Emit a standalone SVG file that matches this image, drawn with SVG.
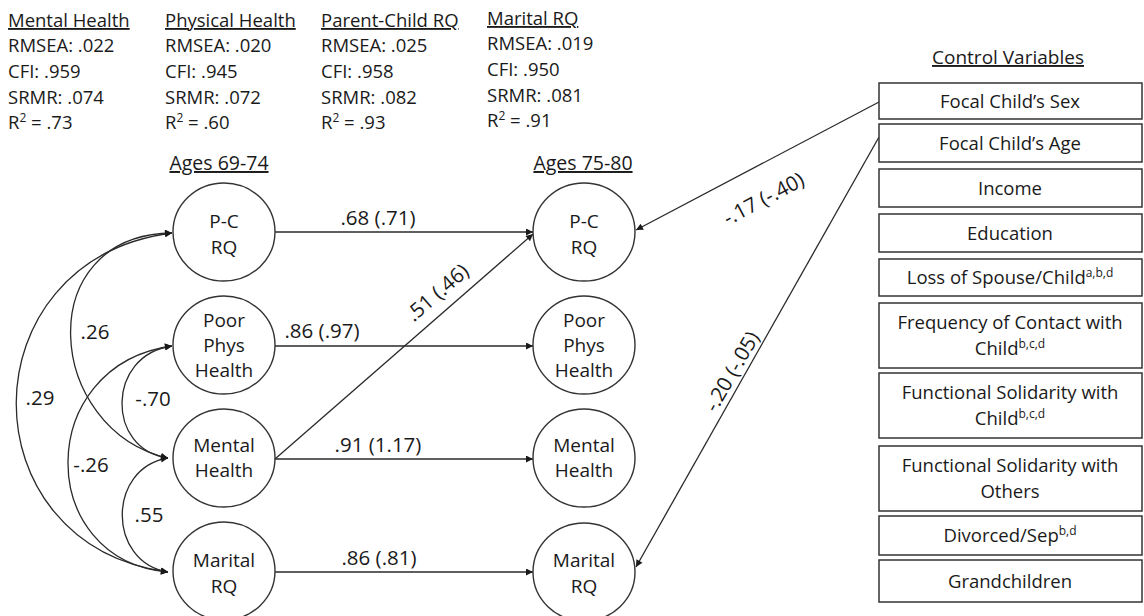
<svg xmlns="http://www.w3.org/2000/svg" width="1144" height="616" viewBox="0 0 1144 616">
  <style>
    text { font-family: "Open Sans", "Liberation Sans", sans-serif; fill: #1a1a1a; }
    .hd { font-size: 18.5px; }
    .ul { text-decoration: underline; }
    .nd { font-size: 19px; text-anchor: middle; }
    .bx { font-size: 18.5px; text-anchor: middle; }
    .lb { font-size: 20.5px; }
    .sup { font-size: 12px; }
    .circ { fill: #ffffff; stroke: #333333; stroke-width: 1.4; }
    .box { fill: #ffffff; stroke: #333333; stroke-width: 1.5; }
    .edge { fill: none; stroke: #2a2a2a; stroke-width: 1.3; }
  </style>
  <defs>
    <marker id="arrow" viewBox="0 0 10 10" refX="10" refY="5" markerWidth="9" markerHeight="7" markerUnits="userSpaceOnUse" orient="auto-start-reverse">
      <path d="M0,0 L10,5 L0,10 z" fill="#1a1a1a"/>
    </marker>
  </defs>

  <rect width="1144" height="616" fill="#ffffff"/>

  <!-- model fit statistics -->
  <g id="fit-mental" class="hd">
    <text x="8" y="27" class="hd ul">Mental Health</text>
    <text x="8" y="52" class="hd">RMSEA: .022</text>
    <text x="8" y="78" class="hd">CFI: .959</text>
    <text x="8" y="104" class="hd">SRMR: .074</text>
    <text x="8" y="129" class="hd">R<tspan class="sup" dy="-7">2</tspan><tspan dy="7"> = .73</tspan></text>
  </g>
  <g id="fit-physical">
    <text x="165" y="27" class="hd ul">Physical Health</text>
    <text x="165" y="52" class="hd">RMSEA: .020</text>
    <text x="165" y="78" class="hd">CFI: .945</text>
    <text x="165" y="104" class="hd">SRMR: .072</text>
    <text x="165" y="129" class="hd">R<tspan class="sup" dy="-7">2</tspan><tspan dy="7"> = .60</tspan></text>
  </g>
  <g id="fit-parent-child">
    <text x="321" y="27" class="hd ul">Parent-Child RQ</text>
    <text x="321" y="52" class="hd">RMSEA: .025</text>
    <text x="321" y="78" class="hd">CFI: .958</text>
    <text x="321" y="104" class="hd">SRMR: .082</text>
    <text x="321" y="129" class="hd">R<tspan class="sup" dy="-7">2</tspan><tspan dy="7"> = .93</tspan></text>
  </g>
  <g id="fit-marital">
    <text x="487" y="25" class="hd ul">Marital RQ</text>
    <text x="487" y="50" class="hd">RMSEA: .019</text>
    <text x="487" y="76" class="hd">CFI: .950</text>
    <text x="487" y="102" class="hd">SRMR: .081</text>
    <text x="487" y="127" class="hd">R<tspan class="sup" dy="-7">2</tspan><tspan dy="7"> = .91</tspan></text>
  </g>

  <!-- wave headings -->
  <text id="wave1-title" x="219" y="170" class="nd ul" style="font-size:19.5px">Ages 69-74</text>
  <text id="wave2-title" x="583" y="170" class="nd ul" style="font-size:19.5px">Ages 75-80</text>
  <text id="controls-title" x="1008" y="64" class="nd ul" style="font-size:19px">Control Variables</text>

  <!-- paths and covariances -->
  <g id="connectors">
    <!-- stability paths -->
    <line class="edge" x1="275" y1="232" x2="533" y2="232" marker-end="url(#arrow)"/>
    <line class="edge" x1="275" y1="346" x2="533" y2="346" marker-end="url(#arrow)"/>
    <line class="edge" x1="275" y1="459" x2="533" y2="459" marker-end="url(#arrow)"/>
    <line class="edge" x1="275" y1="572" x2="533" y2="572" marker-end="url(#arrow)"/>
    <!-- cross-lagged path -->
    <line class="edge" x1="275" y1="459" x2="533" y2="234" marker-end="url(#arrow)"/>
    <!-- control variable paths -->
    <line class="edge" x1="879" y1="102" x2="636" y2="230" marker-end="url(#arrow)"/>
    <line class="edge" x1="879" y1="137" x2="636" y2="567" marker-end="url(#arrow)"/>
    <!-- wave 1 covariances -->
    <path class="edge" d="M172,233 C-35,260 -35,545 168,572" marker-start="url(#arrow)" marker-end="url(#arrow)"/>
    <path class="edge" d="M172,233 C30,235 45,430 168,458" marker-start="url(#arrow)" marker-end="url(#arrow)"/>
    <path class="edge" d="M172,346 C106,355 106,450 168,458" marker-start="url(#arrow)" marker-end="url(#arrow)"/>
    <path class="edge" d="M172,346 C34,365 34,560 168,572" marker-start="url(#arrow)" marker-end="url(#arrow)"/>
    <path class="edge" d="M168,458 C107,468 107,562 168,572" marker-start="url(#arrow)" marker-end="url(#arrow)"/>

    <!-- coefficient labels -->
    <text class="lb" x="378" y="225" text-anchor="middle">.68 (.71)</text>
    <text class="lb" x="322" y="338" text-anchor="middle">.86 (.97)</text>
    <text class="lb" x="378" y="452" text-anchor="middle">.91 (1.17)</text>
    <text class="lb" x="379" y="565" text-anchor="middle">.86 (.81)</text>
    <text class="lb" text-anchor="middle" transform="translate(442,298) rotate(-41)">.51 (.46)</text>
    <text class="lb" text-anchor="middle" transform="translate(767,205) rotate(-28)">-.17 (-.40)</text>
    <text class="lb" text-anchor="middle" transform="translate(738,375) rotate(-60)">-.20 (-.05)</text>
    <text class="lb" x="40" y="405" text-anchor="middle">.29</text>
    <text class="lb" x="95" y="339" text-anchor="middle">.26</text>
    <text class="lb" x="153" y="406" text-anchor="middle">-.70</text>
    <text class="lb" x="91" y="472" text-anchor="middle">-.26</text>
    <text class="lb" x="149" y="522" text-anchor="middle">.55</text>
  </g>

  <!-- wave 1 nodes -->
  <g id="pc-rq-1">
    <ellipse class="circ" cx="224" cy="232" rx="51" ry="49"/>
    <text class="nd" x="224" y="228">P-C</text>
    <text class="nd" x="224" y="254">RQ</text>
  </g>
  <g id="phys-health-1">
    <ellipse class="circ" cx="224" cy="345" rx="51" ry="49"/>
    <text class="nd" x="224" y="327">Poor</text>
    <text class="nd" x="224" y="352">Phys</text>
    <text class="nd" x="224" y="377">Health</text>
  </g>
  <g id="mental-health-1">
    <ellipse class="circ" cx="224" cy="458" rx="51" ry="49"/>
    <text class="nd" x="224" y="452">Mental</text>
    <text class="nd" x="224" y="477">Health</text>
  </g>
  <g id="marital-rq-1">
    <ellipse class="circ" cx="224" cy="571" rx="51" ry="49"/>
    <text class="nd" x="224" y="567">Marital</text>
    <text class="nd" x="224" y="593">RQ</text>
  </g>

  <!-- wave 2 nodes -->
  <g id="pc-rq-2">
    <ellipse class="circ" cx="584" cy="232" rx="51" ry="49"/>
    <text class="nd" x="584" y="228">P-C</text>
    <text class="nd" x="584" y="254">RQ</text>
  </g>
  <g id="phys-health-2">
    <ellipse class="circ" cx="584" cy="345" rx="51" ry="49"/>
    <text class="nd" x="584" y="327">Poor</text>
    <text class="nd" x="584" y="352">Phys</text>
    <text class="nd" x="584" y="377">Health</text>
  </g>
  <g id="mental-health-2">
    <ellipse class="circ" cx="584" cy="458" rx="51" ry="49"/>
    <text class="nd" x="584" y="452">Mental</text>
    <text class="nd" x="584" y="477">Health</text>
  </g>
  <g id="marital-rq-2">
    <ellipse class="circ" cx="584" cy="572" rx="51" ry="49"/>
    <text class="nd" x="584" y="567">Marital</text>
    <text class="nd" x="584" y="593">RQ</text>
  </g>

  <!-- control variables -->
  <g id="ctrl-sex">
    <rect class="box" x="879" y="83" width="263" height="36"/>
    <text class="bx" x="1010" y="108">Focal Child’s Sex</text>
  </g>
  <g id="ctrl-age">
    <rect class="box" x="879" y="124" width="263" height="38"/>
    <text class="bx" x="1010" y="150">Focal Child’s Age</text>
  </g>
  <g id="ctrl-income">
    <rect class="box" x="879" y="169" width="263" height="38"/>
    <text class="bx" x="1010" y="195">Income</text>
  </g>
  <g id="ctrl-education">
    <rect class="box" x="879" y="214" width="263" height="38"/>
    <text class="bx" x="1010" y="240">Education</text>
  </g>
  <g id="ctrl-loss">
    <rect class="box" x="879" y="259" width="263" height="37"/>
    <text class="bx" x="1010" y="284">Loss of Spouse/Child<tspan class="sup" dy="-7">a,b,d</tspan></text>
  </g>
  <g id="ctrl-contact">
    <rect class="box" x="879" y="303" width="263" height="65"/>
    <text class="bx" x="1010" y="329">Frequency of Contact with</text>
    <text class="bx" x="1010" y="355">Child<tspan class="sup" dy="-7">b,c,d</tspan></text>
  </g>
  <g id="ctrl-solidarity-child">
    <rect class="box" x="879" y="373" width="263" height="65"/>
    <text class="bx" x="1010" y="399">Functional Solidarity with</text>
    <text class="bx" x="1010" y="425">Child<tspan class="sup" dy="-7">b,c,d</tspan></text>
  </g>
  <g id="ctrl-solidarity-others">
    <rect class="box" x="879" y="446" width="263" height="65"/>
    <text class="bx" x="1010" y="472">Functional Solidarity with</text>
    <text class="bx" x="1010" y="498">Others</text>
  </g>
  <g id="ctrl-divorced">
    <rect class="box" x="879" y="516" width="263" height="39"/>
    <text class="bx" x="1010" y="542">Divorced/Sep<tspan class="sup" dy="-7">b,d</tspan></text>
  </g>
  <g id="ctrl-grandchildren">
    <rect class="box" x="879" y="560" width="263" height="42"/>
    <text class="bx" x="1010" y="588">Grandchildren</text>
  </g>
</svg>
